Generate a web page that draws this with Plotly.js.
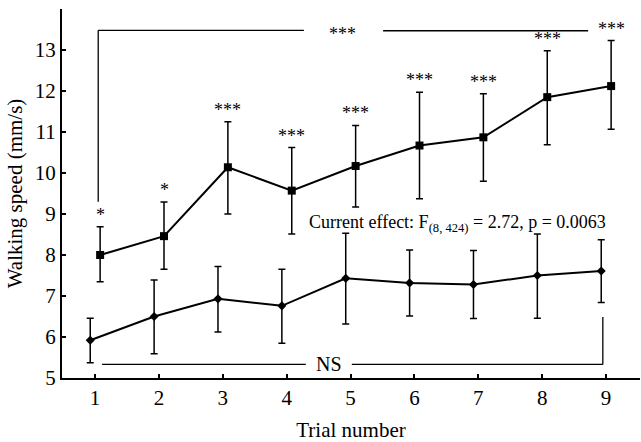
<!DOCTYPE html>
<html>
<head>
<meta charset="utf-8">
<script src="https://cdn.plot.ly/plotly-3.0.1.min.js"></script>
<style>html,body{margin:0;padding:0;background:#fff;}#chart{width:641px;height:442px;}</style>
</head>
<body>
<div id="chart"></div>
<script>
// ---- data ----
const trials = [1, 2, 3, 4, 5, 6, 7, 8, 9];
const tickLabels = ['1', '2', '3', '4', '5', '6', '7', '8', '9'];
const squareMean  = [8.00, 8.46, 10.14, 9.57, 10.17, 10.67, 10.87, 11.85, 12.12];
const squareUpper = [8.69, 9.29, 11.25, 10.62, 11.16, 11.97, 11.93, 12.98, 13.23];
const squareLower = [7.35, 7.65, 9.00, 8.51, 9.17, 9.37, 9.80, 10.69, 11.07];
const diamondMean  = [5.92, 6.50, 6.93, 6.76, 7.43, 7.32, 7.28, 7.50, 7.61];
const diamondUpper = [6.46, 7.39, 7.72, 7.65, 8.53, 8.12, 8.11, 8.51, 8.37];
const diamondLower = [5.37, 5.59, 6.12, 5.85, 6.32, 6.51, 6.45, 6.46, 6.84];
const starLabels = ['*', '*', '***', '***', '***', '***', '***', '***', '***'];
const effectText = 'Current effect: F<sub>(8, 424)</sub> = 2.72, p = 0.0063';

// ---- style ----
const FONT = 'Liberation Serif, Times New Roman, serif';
const sqOffset = 0.08, diOffset = -0.075;
const xSq = trials.map(t => t + sqOffset);
const xDi = trials.map(t => t + diOffset);

const traces = [
  {
    x: xSq, y: squareMean, type: 'scatter', mode: 'lines+markers',
    line: {color: '#000', width: 2},
    marker: {symbol: 'square', size: 8, color: '#000'},
    error_y: {type: 'data', symmetric: false,
      array: squareUpper.map((u, i) => u - squareMean[i]),
      arrayminus: squareMean.map((m, i) => m - squareLower[i]),
      color: '#000', thickness: 1.5, width: 3.5},
    hoverinfo: 'skip', showlegend: false
  },
  {
    x: xDi, y: diamondMean, type: 'scatter', mode: 'lines+markers',
    line: {color: '#000', width: 2},
    marker: {symbol: 'diamond', size: 7, color: '#000'},
    error_y: {type: 'data', symmetric: false,
      array: diamondUpper.map((u, i) => u - diamondMean[i]),
      arrayminus: diamondMean.map((m, i) => m - diamondLower[i]),
      color: '#000', thickness: 1.5, width: 3.5},
    hoverinfo: 'skip', showlegend: false
  }
];

const ln = {color: '#000', width: 1.3};
const shapes = [
  // top bracket
  {type: 'line', xref: 'x', yref: 'y', x0: 1.05, x1: 1.05, y0: 9.3, y1: 13.48, line: ln},
  {type: 'line', xref: 'x', yref: 'y', x0: 1.05, x1: 4.27, y0: 13.48, y1: 13.48, line: ln},
  {type: 'line', xref: 'x', yref: 'y', x0: 5.51, x1: 8.72, y0: 13.47, y1: 13.47, line: ln},
  // NS bracket
  {type: 'line', xref: 'x', yref: 'y', x0: 1.11, x1: 4.3, y0: 5.33, y1: 5.33, line: ln},
  {type: 'line', xref: 'x', yref: 'y', x0: 5.02, x1: 8.95, y0: 5.33, y1: 5.33, line: ln},
  {type: 'line', xref: 'x', yref: 'y', x0: 8.95, x1: 8.95, y0: 5.33, y1: 6.49, line: ln}
];

const annotations = starLabels.map((s, i) => ({
  x: xSq[i], y: squareUpper[i], xref: 'x', yref: 'y', text: s, showarrow: false,
  yanchor: 'bottom', yshift: 0, font: {family: FONT, size: 18, color: '#000'}
}));
annotations.push({x: 4.87, y: 13.47, xref: 'x', yref: 'y', text: '***', showarrow: false,
  yanchor: 'middle', yshift: -3, font: {family: FONT, size: 18, color: '#000'}});
annotations.push({x: 4.67, y: 5.33, xref: 'x', yref: 'y', text: 'NS', showarrow: false,
  yanchor: 'middle', font: {family: FONT, size: 20, color: '#000'}});
annotations.push({x: 6.675, y: 8.78, xref: 'x', yref: 'y', text: effectText, showarrow: false,
  xanchor: 'center', yanchor: 'middle', font: {family: FONT, size: 18, color: '#000'}});

const layout = {
  width: 641, height: 442,
  margin: {l: 62, r: 1, t: 9, b: 64, pad: 0},
  paper_bgcolor: '#fff', plot_bgcolor: '#fff',
  font: {family: FONT, color: '#000', size: 21},
  xaxis: {
    range: [0.483, 9.532], tickmode: 'array', tickvals: trials, ticktext: tickLabels,
    ticks: 'inside', ticklen: 4, tickwidth: 2, tickcolor: '#000',
    showline: true, linecolor: '#000', linewidth: 2, showgrid: false, zeroline: false,
    tickfont: {family: FONT, size: 21, color: '#000'},
    title: {text: 'Trial number', font: {family: FONT, size: 21, color: '#000'}, standoff: 18}
  },
  yaxis: {
    range: [5, 14], tickmode: 'linear', tick0: 5, dtick: 1,
    ticks: 'inside', ticklen: 4, tickwidth: 2, tickcolor: '#000',
    showline: true, linecolor: '#000', linewidth: 2, showgrid: false, zeroline: false,
    tickfont: {family: FONT, size: 21, color: '#000'},
    title: {text: 'Walking speed (mm/s)', font: {family: FONT, size: 21, color: '#000'}, standoff: 6}
  },
  shapes: shapes,
  annotations: annotations
};

Plotly.newPlot('chart', traces, layout, {displayModeBar: false, staticPlot: true});
</script>
</body>
</html>
